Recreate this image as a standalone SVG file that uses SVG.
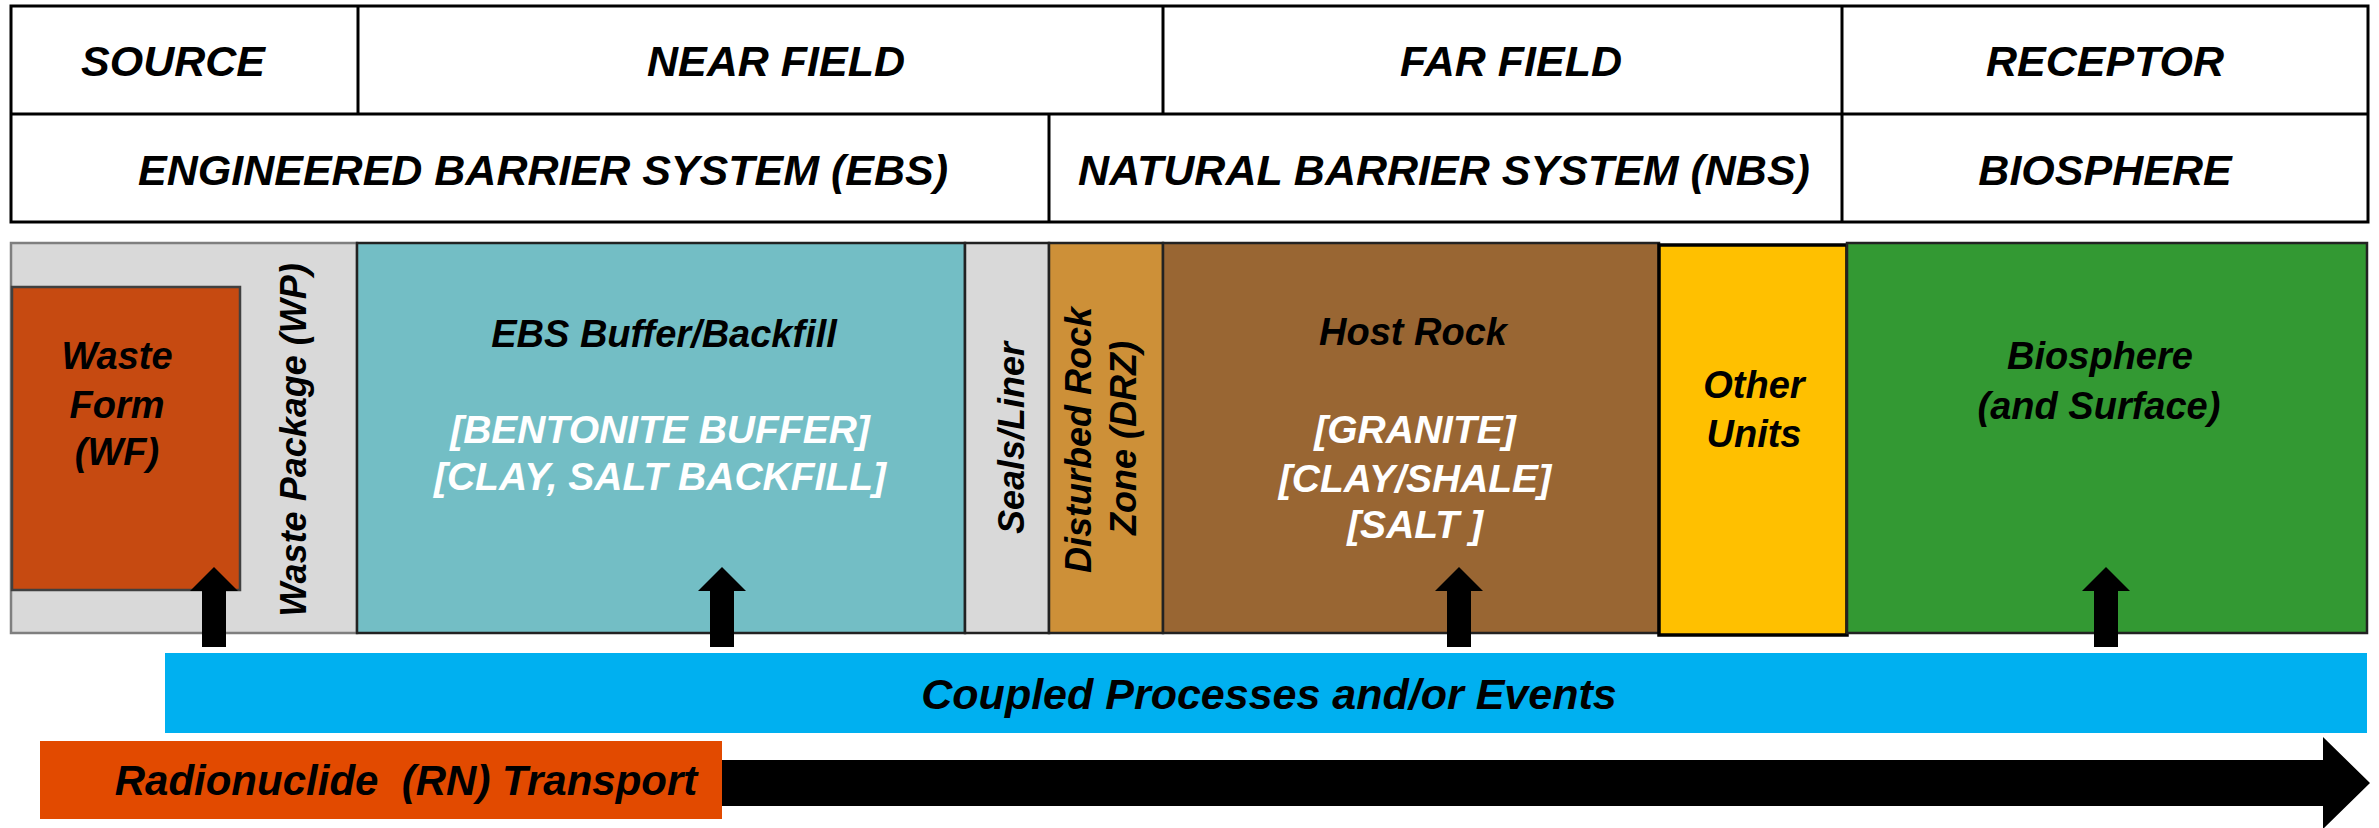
<svg xmlns="http://www.w3.org/2000/svg" width="2379" height="828" viewBox="0 0 2379 828">
<style>
text{font-family:"Liberation Sans",Arial,sans-serif;font-style:italic;font-weight:bold;}
.h{font-size:43px;text-anchor:middle;fill:#000;}
.b{font-size:38px;text-anchor:middle;fill:#000;}
.w{font-size:39px;text-anchor:middle;fill:#fff;}
.v{font-size:36px;text-anchor:middle;fill:#000;}
.cell{fill:#fff;stroke:#000;stroke-width:3;}
.band{stroke:#222;stroke-width:2.5;}
.arr{fill:#000;}
</style>
<rect width="2379" height="828" fill="#fff"/>
<g id="table">
  <rect class="cell" x="11" y="6" width="2357" height="216"/>
  <line x1="11" y1="114" x2="2368" y2="114" stroke="#000" stroke-width="3"/>
  <line x1="358" y1="6" x2="358" y2="114" stroke="#000" stroke-width="3"/>
  <line x1="1163" y1="6" x2="1163" y2="114" stroke="#000" stroke-width="3"/>
  <line x1="1842" y1="6" x2="1842" y2="222" stroke="#000" stroke-width="3"/>
  <line x1="1049" y1="114" x2="1049" y2="222" stroke="#000" stroke-width="3"/>
</g>
<g id="hdr-source"><text class="h" x="173" y="76">SOURCE</text></g>
<g id="hdr-near"><text class="h" x="776" y="76">NEAR FIELD</text></g>
<g id="hdr-far"><text class="h" x="1511" y="76">FAR FIELD</text></g>
<g id="hdr-receptor"><text class="h" x="2105" y="76">RECEPTOR</text></g>
<g id="hdr-ebs"><text class="h" x="543" y="185">ENGINEERED BARRIER SYSTEM (EBS)</text></g>
<g id="hdr-nbs"><text class="h" x="1444" y="185">NATURAL BARRIER SYSTEM (NBS)</text></g>
<g id="hdr-bio"><text class="h" x="2105" y="185">BIOSPHERE</text></g>

<g id="waste-package">
  <rect x="11" y="243" width="346" height="390" fill="#D9D9D9" stroke="#7F7F7F" stroke-width="2.5"/>
  <text class="v" transform="translate(306,440) rotate(-90)">Waste Package (WP)</text>
</g>
<g id="waste-form">
  <rect x="12" y="287" width="228" height="303" fill="#C64A11" stroke="#404040" stroke-width="2.5"/>
  <text class="b" x="117" y="369">Waste</text>
  <text class="b" x="117" y="418">Form</text>
  <text class="b" x="117" y="465">(WF)</text>
</g>
<g id="ebs-buffer">
  <rect class="band" x="357" y="243" width="608" height="390" fill="#73BEC5"/>
  <text class="b" x="664" y="347">EBS Buffer/Backfill</text>
  <text class="w" x="660" y="443">[BENTONITE BUFFER]</text>
  <text class="w" x="660" y="490">[CLAY, SALT BACKFILL]</text>
</g>
<g id="seals">
  <rect class="band" x="965" y="243" width="84" height="390" fill="#D9D9D9"/>
  <text class="v" transform="translate(1024,438) rotate(-90)">Seals/Liner</text>
</g>
<g id="drz">
  <rect class="band" x="1049" y="243" width="114" height="390" fill="#CD9038"/>
  <text class="v" transform="translate(1091,440) rotate(-90)">Disturbed Rock</text>
  <text class="v" transform="translate(1136,438) rotate(-90)">Zone (DRZ)</text>
</g>
<g id="host-rock">
  <rect class="band" x="1163" y="243" width="496" height="390" fill="#996633"/>
  <text class="b" x="1413" y="345">Host Rock</text>
  <text class="w" x="1415" y="443">[GRANITE]</text>
  <text class="w" x="1415" y="492">[CLAY/SHALE]</text>
  <text class="w" x="1415" y="538">[SALT ]</text>
</g>
<g id="other-units">
  <rect x="1659" y="245" width="188" height="390" fill="#FFC000" stroke="#000" stroke-width="3.5"/>
  <text class="b" x="1754" y="398">Other</text>
  <text class="b" x="1754" y="447">Units</text>
</g>
<g id="biosphere">
  <rect class="band" x="1847" y="243" width="520" height="390" fill="#339933"/>
  <text class="b" x="2100" y="369">Biosphere</text>
  <text class="b" x="2099" y="419">(and Surface)</text>
</g>
<g id="coupled">
  <rect x="165" y="653" width="2202" height="80" fill="#00B0F0"/>
  <text class="h" x="1269" y="709">Coupled Processes and/or Events</text>
</g>
<g id="rn-transport">
  <rect x="40" y="741" width="682" height="78" fill="#E24A00"/>
  <text class="h" x="406" y="795" style="font-size:42px" xml:space="preserve">Radionuclide  (RN) Transport</text>
</g>
<g id="connectors">
  <polygon class="arr" points="202,647 202,591 190,591 214,567 238,591 226,591 226,647"/>
  <polygon class="arr" points="710,647 710,591 698,591 722,567 746,591 734,591 734,647"/>
  <polygon class="arr" points="1447,647 1447,591 1435,591 1459,567 1483,591 1471,591 1471,647"/>
  <polygon class="arr" points="2094,647 2094,591 2082,591 2106,567 2130,591 2118,591 2118,647"/>
  <polygon class="arr" points="722,760 2323,760 2323,737 2370,783 2323,829 2323,806 722,806"/>
</g>
</svg>
